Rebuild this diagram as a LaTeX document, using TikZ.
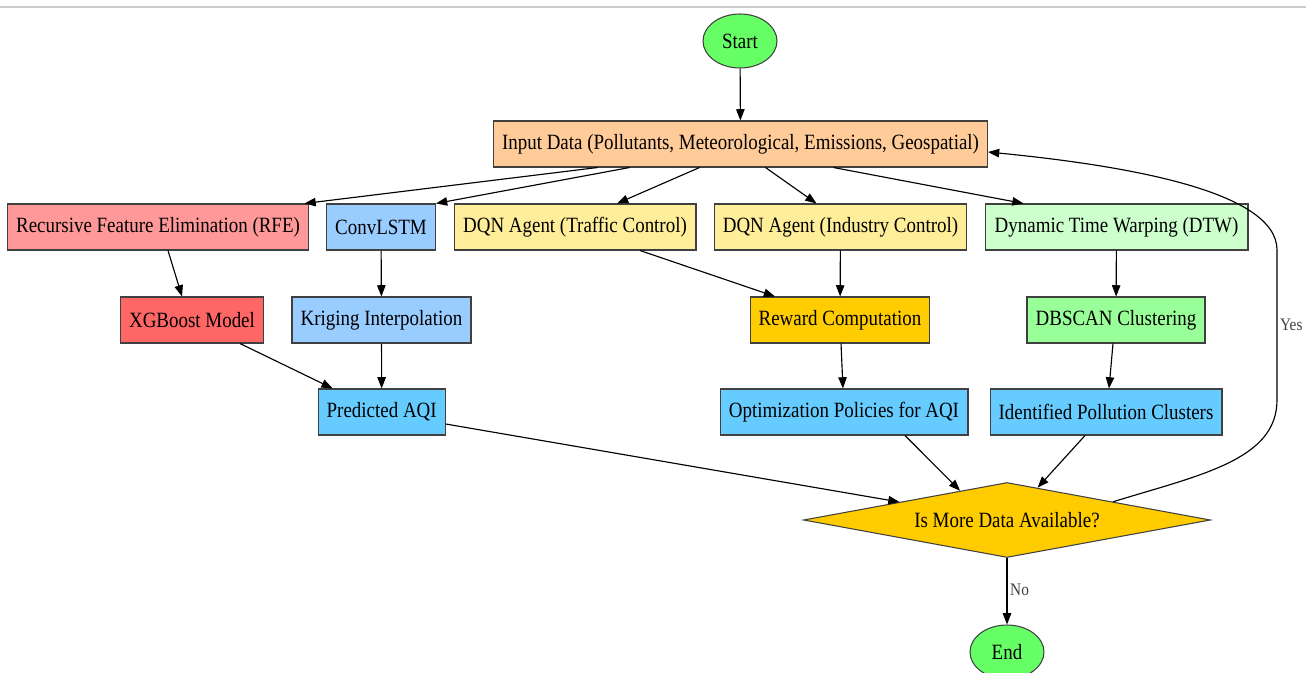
\documentclass[tikz,border=0pt]{standalone}
\usepackage{fontspec}
\setmainfont{Liberation Serif}[FakeStretch=0.87]
\usetikzlibrary{arrows.meta}
\usetikzlibrary{shapes}
\usetikzlibrary{calc}

\definecolor{termgreen}{HTML}{66FF66}
\definecolor{inpeach}{HTML}{FFCC99}
\definecolor{rfepink}{HTML}{FF9999}
\definecolor{xgbred}{HTML}{FF6666}
\definecolor{lstmblue}{HTML}{99CCFF}
\definecolor{outblue}{HTML}{66CCFF}
\definecolor{dqnyellow}{HTML}{FFEE99}
\definecolor{gold}{HTML}{FFCC00}
\definecolor{dtwgreen}{HTML}{CCFFCC}
\definecolor{dbgreen}{HTML}{99FF99}

\begin{document}
\begin{tikzpicture}[x=0.02cm, y=-0.02cm,
  box/.style={draw=black!75, line width=0.6pt, rectangle, minimum height=0.92cm, inner sep=0pt, font=\fontsize{12.4}{14}\selectfont},
  term/.style={draw=black!75, line width=0.6pt, ellipse, minimum width=1.48cm, minimum height=1.08cm, inner sep=0pt, fill=termgreen, font=\fontsize{12.4}{14}\selectfont},
  arr/.style={draw=black, line width=0.65pt, -{Triangle[length=6.4pt, width=4.8pt]}},
  lbl/.style={inner sep=1.5pt, text=black!75, font=\fontsize{10}{12}\selectfont}]
\clip (0,0) rectangle (1306,673);
\draw[black!20, line width=0.6pt] (0,7) -- (1306,7);

\node[term] (start) at (740,41) {Start};
\node[box, fill=inpeach, minimum width=9.88cm] (in) at (740.5,144) {Input Data (Pollutants, Meteorological, Emissions, Geospatial)};

\node[box, fill=rfepink, minimum width=6.04cm] (rfe) at (158,227) {Recursive Feature Elimination (RFE)};
\node[box, fill=lstmblue, minimum width=2.18cm] (conv) at (381,227) {ConvLSTM};
\node[box, fill=dqnyellow, minimum width=4.84cm] (traffic) at (575,227) {DQN Agent (Traffic Control)};
\node[box, fill=dqnyellow, minimum width=5.05cm] (industry) at (840.5,227) {DQN Agent (Industry Control)};
\node[box, fill=dtwgreen, minimum width=5.26cm] (dtw) at (1116.5,227) {Dynamic Time Warping (DTW)};

\node[box, fill=xgbred, minimum width=2.86cm] (xgb) at (192,320) {XGBoost Model};
\node[box, fill=lstmblue, minimum width=3.58cm] (krig) at (381.5,320) {Kriging Interpolation};
\node[box, fill=gold, minimum width=3.58cm] (reward) at (840,320) {Reward Computation};
\node[box, fill=dbgreen, minimum width=3.56cm] (dbscan) at (1116,320) {DBSCAN Clustering};

\node[box, fill=outblue, minimum width=2.54cm] (paqi) at (381.7,412) {Predicted AQI};
\node[box, fill=outblue, minimum width=4.96cm] (opt) at (844,412) {Optimization Policies for AQI};
\node[box, fill=outblue, minimum width=4.64cm] (ident) at (1106,412) {Identified Pollution Clusters};

\node[draw=black!75, line width=0.6pt, diamond, aspect=5.4, fill=gold, minimum width=8.14cm, minimum height=1.5cm, inner sep=0pt, font=\fontsize{12.4}{14}\selectfont] (dec) at (1007,520) {Is More Data Available?};
\node[term] (end) at (1007,652) {End};

\draw[arr] (start) -- (in);
\draw[arr] ($(in.south)+(-143,0)$) -- ($(rfe.north east)+(-5,0)$);
\draw[arr] ($(in.south)+(-111,0)$) -- (conv.north east);
\draw[arr] ($(in.south)+(-41,0)$) -- ($(traffic.north)+(42,0)$);
\draw[arr] ($(in.south)+(25,0)$) -- ($(industry.north)+(-24,0)$);
\draw[arr] ($(in.south)+(93,0)$) -- ($(dtw.north)+(-93,0)$);

\draw[arr] ($(rfe.south)+(10,0)$) -- ($(xgb.north)+(-10,0)$);
\draw[arr] (conv) -- (krig);
\draw[arr] ($(traffic.south)+(65,0)$) -- ($(reward.north)+(-65,0)$);
\draw[arr] (industry) -- (reward);
\draw[arr] (dtw) -- (dbscan);

\draw[arr] ($(xgb.south)+(48,0)$) -- ($(paqi.north)+(-49,0)$);
\draw[arr] (krig) -- (paqi);
\draw[arr] (reward) -- (opt);
\draw[arr] ($(dbscan.south)+(-3,0)$) -- ($(ident.north)+(3,0)$);

\draw[arr] ($(paqi.east)+(0,12)$) -- ($(dec.north)!0.527!(dec.west)$);
\draw[arr] ($(opt.south)+(61,0)$) -- ($(dec.north)!0.23!(dec.west)$);
\draw[arr] ($(ident.south)+(-21,0)$) -- ($(dec.north)!0.15!(dec.east)$);

\draw[arr] (dec) -- node[lbl, right, pos=0.48] {No} (end);
\draw[arr] ($(dec.north)!0.52!(dec.east)$) .. controls (1200,475) and (1277,460) .. (1277,400)
  -- node[lbl, right, pos=0.5] {Yes} (1277,250) .. controls (1277,190) and (1120,165) .. ($(in.east)+(0,8)$);
\end{tikzpicture}
\end{document}
